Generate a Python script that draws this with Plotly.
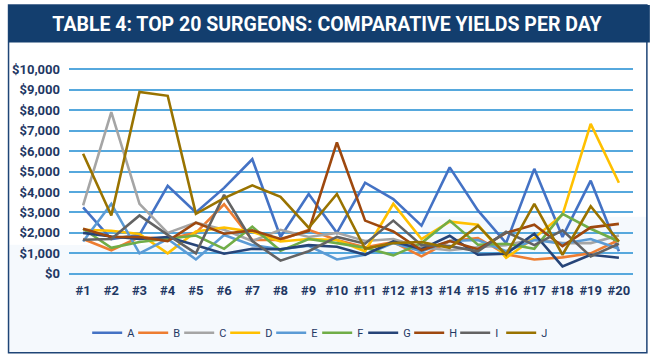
import plotly.graph_objects as go

categories = [f"#{i}" for i in range(1, 21)]
series_names = ["A", "B", "C", "D", "E", "F", "G", "H", "I", "J"]

A = [3250, 1700, 1900, 4300, 3000, 4200, 5600, 1800, 3900, 2000, 4450, 3650, 2350, 5200, 3100, 1500, 5130, 1800, 4550, 1100]
B = [1700, 1150, 1800, 1700, 2000, 3400, 1650, 1650, 2150, 1650, 1300, 1550, 850, 1600, 1750, 950, 700, 800, 1000, 1650]
C = [3340, 7900, 3420, 2000, 2500, 2150, 1600, 2150, 1800, 2000, 1600, 1700, 1300, 1150, 1300, 1400, 1700, 1500, 1500, 1870]
D = [2150, 2100, 1950, 1000, 2070, 2260, 2050, 1580, 1700, 1650, 1100, 3420, 1700, 2550, 2400, 780, 1750, 2880, 7330, 4450]
E = [1580, 3420, 1000, 1700, 700, 1900, 1400, 1200, 1370, 700, 930, 1500, 1100, 1600, 1650, 1100, 1650, 1470, 1700, 1220]
F = [2200, 1270, 1550, 1700, 1870, 1220, 2300, 1120, 1700, 1500, 1270, 900, 1500, 2600, 1420, 1470, 1220, 2930, 2200, 1580]
G = [2000, 1820, 1700, 1800, 1400, 980, 1220, 1200, 1400, 1320, 930, 1580, 1200, 1860, 930, 980, 1960, 360, 930, 780]
H = [2200, 1800, 1800, 1600, 2500, 1960, 2120, 1700, 2100, 6420, 2600, 2070, 1150, 1600, 1200, 2000, 2400, 1350, 2270, 2440]
I = [1660, 1700, 2850, 1900, 1000, 3860, 1600, 640, 1100, 1800, 1470, 2600, 1400, 1350, 1100, 2050, 1400, 2120, 850, 1470]
J = [5870, 2850, 8890, 8700, 2930, 3700, 4320, 3760, 2250, 3900, 1220, 1500, 1550, 1270, 2350, 930, 3420, 930, 3300, 1580]

series_values = [A, B, C, D, E, F, G, H, I, J]
colors = ["#4472c4", "#ed7d31", "#a5a5a5", "#ffc000", "#5b9bd5",
          "#70ad47", "#264478", "#9e480e", "#636363", "#997300"]

y_ticks = list(range(0, 10001, 1000))
y_tick_labels = [f"${v:,}" for v in y_ticks]

W, Hh = 654, 362
ml, mr, mt, mb = 64, 21, 68.1, 86.8
pw, ph = W - ml - mr, Hh - mt - mb

def px(x):
    return (x - ml) / pw

def py(y):
    return (Hh - mb - y) / ph

fig = go.Figure()
for name, vals, col in zip(series_names, series_values, colors):
    fig.add_trace(go.Scatter(x=categories, y=vals, name=name, mode="lines",
                             line=dict(color=col, width=2.6)))

navy = "#133e6e"
text_col = "#1f3864"

shapes = [
    dict(type="path", xref="paper", yref="paper", layer="below",
         path=f"M{px(3)},{py(245)} L{px(420)},{py(246)} L{px(420)},{py(217)} L{px(647)},{py(217)} L{px(647)},{py(353)} L{px(3)},{py(353)} Z",
         fillcolor="#f5f9fd", line=dict(width=0)),
    dict(type="rect", xref="paper", yref="paper", layer="above",
         x0=px(3), x1=px(647), y0=py(353), y1=py(5),
         line=dict(color="#1f4577", width=1.5), fillcolor="rgba(0,0,0,0)"),
    dict(type="rect", xref="paper", yref="paper", layer="above",
         x0=px(3), x1=px(650), y0=py(42.7), y1=py(5),
         line=dict(width=0), fillcolor=navy),
]

fig.update_layout(
    width=W, height=Hh,
    margin=dict(l=ml, r=mr, t=mt, b=mb, pad=0),
    paper_bgcolor="white", plot_bgcolor="rgba(0,0,0,0)",
    shapes=shapes,
    title=dict(text="TABLE 4: TOP 20 SURGEONS: COMPARATIVE YIELDS PER DAY",
               x=0.5, xref="container", xanchor="center",
               y=1 - 24.2 / Hh, yref="container", yanchor="middle",
               font=dict(family="Roboto", size=19.5, color="white", weight="bold")),
    xaxis=dict(type="category", range=[-0.5, 19.5], showgrid=False, zeroline=False,
               showline=False, ticks="", tickfont=dict(family="Roboto", size=13, color=text_col, weight="bold"),
               ticklabelstandoff=6),
    yaxis=dict(range=[-60, 10060], tickvals=y_ticks, ticktext=y_tick_labels,
               showgrid=True, gridcolor="#56a8dd", gridwidth=1.5, zeroline=False,
               showline=False, ticks="", ticklabelstandoff=8,
               tickfont=dict(family="Roboto", size=13, color=text_col, weight="bold")),
    legend=dict(orientation="h", xref="container", yref="container",
                x=0.485, xanchor="center", y=1 - 332.7 / Hh, yanchor="middle",
                font=dict(family="Roboto", size=11, color=text_col),
                itemwidth=30, entrywidth=1, tracegroupgap=0, bgcolor="rgba(0,0,0,0)"),
    showlegend=True,
)

fig.write_html("out.html", config={"displayModeBar": False},
               post_script="document.body.style.margin='0px';document.body.style.padding='0px';")
